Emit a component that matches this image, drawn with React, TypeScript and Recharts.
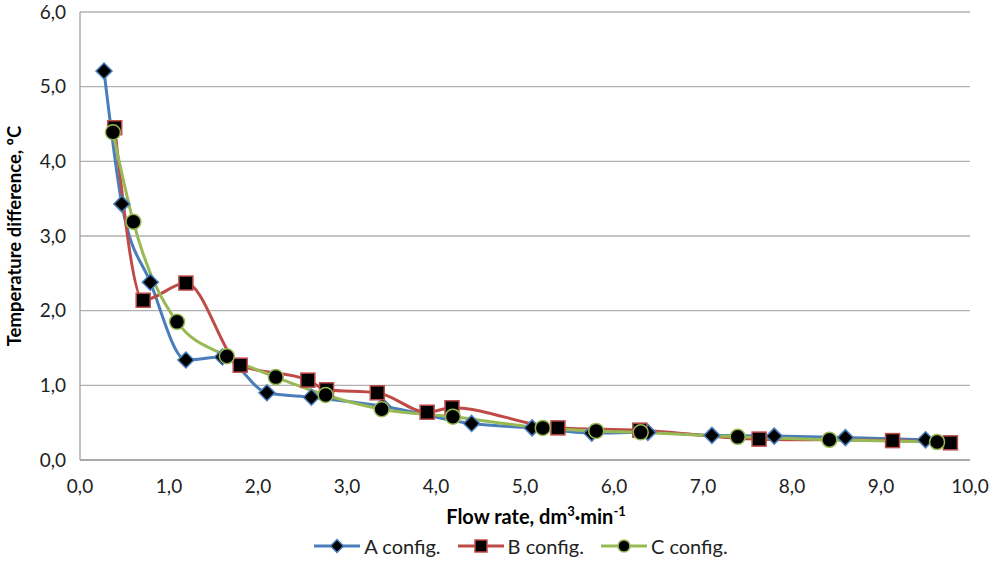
import React from "react";
import { LineChart, Line, XAxis, YAxis, CartesianGrid, Legend } from "recharts";

const aX = [0.27, 0.47, 0.79, 1.19, 1.6, 2.1, 2.6, 3.4, 4.4, 5.08, 5.75, 6.38, 7.1, 7.8, 8.6, 9.5];
const aY = [5.21, 3.43, 2.38, 1.34, 1.38, 0.9, 0.84, 0.72, 0.49, 0.43, 0.36, 0.37, 0.33, 0.32, 0.3, 0.27];

const bX = [0.39, 0.71, 1.19, 1.8, 2.56, 2.77, 3.34, 3.9, 4.18, 5.37, 6.29, 7.63, 9.13, 9.78];
const bY = [4.45, 2.14, 2.37, 1.27, 1.07, 0.94, 0.9, 0.64, 0.7, 0.43, 0.4, 0.28, 0.26, 0.23];

const cX = [0.37, 0.6, 1.09, 1.65, 2.2, 2.76, 3.39, 4.19, 5.2, 5.8, 6.3, 7.39, 8.42, 9.63];
const cY = [4.39, 3.19, 1.85, 1.39, 1.11, 0.87, 0.68, 0.58, 0.43, 0.39, 0.37, 0.31, 0.27, 0.24];

const xTicks = [0, 1, 2, 3, 4, 5, 6, 7, 8, 9, 10];
const yTicks = [0, 1, 2, 3, 4, 5, 6];

const seriesNames = ["A config.", "B config.", "C config."];
const colors = ["#4A7EBB", "#BE4B48", "#98B954"];

const toPoints = (xs: number[], ys: number[]) => xs.map((x, i) => ({ x, y: ys[i] }));
const dataA = toPoints(aX, aY);
const dataB = toPoints(bX, bY);
const dataC = toPoints(cX, cY);

const FONT = "Lato, 'Open Sans', sans-serif";
const fmt = (v: number) => v.toFixed(1).replace(".", ",");

const Diamond = ({ cx, cy, stroke, r = 8 }: any) => (
  <path d={`M${cx},${cy - r} L${cx + r},${cy} L${cx},${cy + r} L${cx - r},${cy} Z`} fill="#000" stroke={stroke} strokeWidth={1.5} />
);
const Square = ({ cx, cy, stroke, r = 7 }: any) => (
  <rect x={cx - r} y={cy - r} width={2 * r} height={2 * r} fill="#000" stroke={stroke} strokeWidth={1.5} />
);
const Circle = ({ cx, cy, stroke, r = 7.5 }: any) => (
  <circle cx={cx} cy={cy} r={r} fill="#000" stroke={stroke} strokeWidth={1.5} />
);

const makeDot = (Shape: any, color: string) => (props: any) => {
  if (props.cx == null || props.cy == null) return <g key={props.index} />;
  return <Shape key={props.index} cx={props.cx} cy={props.cy} stroke={color} />;
};

const shapes = [Diamond, Square, Circle];

const LegendContent = () => (
  <div style={{ display: "flex", justifyContent: "center", alignItems: "center", height: 31, fontFamily: FONT, fontSize: 20, color: "#222", paddingLeft: 72 }}>
    {seriesNames.map((n, i) => {
      const S = shapes[i];
      return (
        <div key={n} style={{ display: "flex", alignItems: "center", marginRight: i < 2 ? 17 : 0 }}>
          <svg width={46} height={20}>
            <line x1={0} y1={10} x2={46} y2={10} stroke={colors[i]} strokeWidth={3} />
            <S cx={23} cy={10} stroke={colors[i]} r={i === 0 ? 6.5 : 6} />
          </svg>
          <span style={{ marginLeft: 4 }}>{n}</span>
        </div>
      );
    })}
  </div>
);

const XLabel = ({ viewBox }: any) => {
  const cx = viewBox.x + viewBox.width / 2 + 11;
  return (
    <text x={cx} y={524} textAnchor="middle" fontFamily={FONT} fontWeight="bold" fontSize={20} fill="#000">
      Flow rate, dm
      <tspan dy={-8} fontSize={13}>3</tspan>
      <tspan dy={8}>·min</tspan>
      <tspan dy={-8} fontSize={13}>-1</tspan>
    </text>
  );
};

const YLabel = ({ viewBox }: any) => {
  const cy = viewBox.y + viewBox.height / 2;
  return (
    <text x={0} y={0} transform={`translate(21, ${cy}) rotate(-90)`} textAnchor="middle" fontFamily={FONT} fontWeight="bold" fontSize={18.5} fill="#000">
      Temperature difference, ºC
    </text>
  );
};

export default function App() {
  return (
    <div style={{ position: "absolute", left: 0, top: 0, background: "#fff" }}>
      <LineChart width={995} height={561} margin={{ top: 12, right: 25, left: 0, bottom: 0 }}>
        <CartesianGrid horizontal vertical={false} stroke="#B0B0B0" strokeWidth={1.3} />
        <XAxis
          type="number"
          dataKey="x"
          domain={[0, 10]}
          ticks={xTicks}
          allowDataOverflow
          tickFormatter={fmt}
          tickLine={false}
          tickSize={0}
          tickMargin={20}
          height={70}
          axisLine={{ stroke: "#A0A0A0", strokeWidth: 1.3 }}
          tick={{ fontFamily: FONT, fontSize: 19, fill: "#222" }}
          label={<XLabel />}
        />
        <YAxis
          type="number"
          dataKey="y"
          domain={[0, 6]}
          ticks={yTicks}
          tickFormatter={fmt}
          tickLine={false}
          tickSize={0}
          tickMargin={14}
          width={80}
          axisLine={{ stroke: "#A0A0A0", strokeWidth: 1.3 }}
          tick={{ fontFamily: FONT, fontSize: 19, fill: "#222" }}
          label={<YLabel />}
        />
        <Legend verticalAlign="bottom" height={31} content={<LegendContent />} />
        <Line data={dataA} dataKey="y" name={seriesNames[0]} type="monotone" stroke={colors[0]} strokeWidth={3} dot={makeDot(Diamond, colors[0])} activeDot={false} isAnimationActive={false} />
        <Line data={dataB} dataKey="y" name={seriesNames[1]} type="monotone" stroke={colors[1]} strokeWidth={3} dot={makeDot(Square, colors[1])} activeDot={false} isAnimationActive={false} />
        <Line data={dataC} dataKey="y" name={seriesNames[2]} type="monotone" stroke={colors[2]} strokeWidth={3} dot={makeDot(Circle, colors[2])} activeDot={false} isAnimationActive={false} />
      </LineChart>
    </div>
  );
}
